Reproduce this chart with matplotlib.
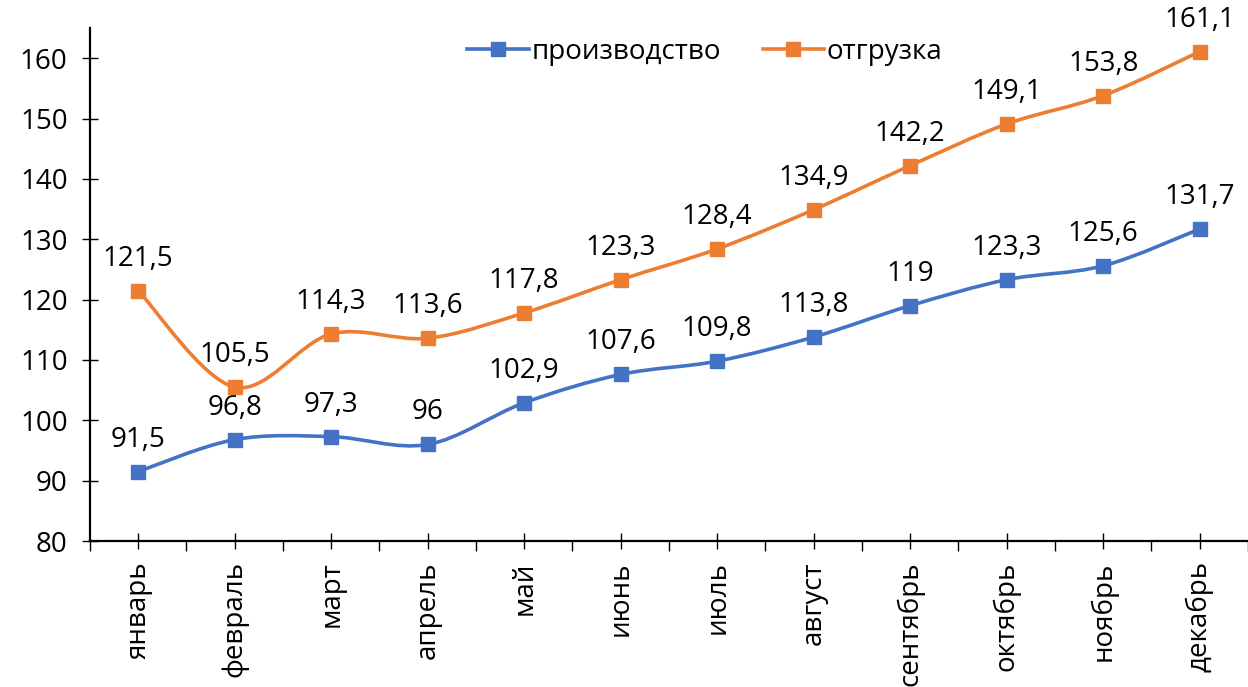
import numpy as np
import matplotlib
matplotlib.use("Agg")
import matplotlib.pyplot as plt
from matplotlib.path import Path
from matplotlib.patches import PathPatch
from matplotlib.lines import Line2D
from matplotlib.ticker import FixedLocator

plt.rcParams['font.family'] = ['Open Sans', 'DejaVu Sans']

months = ['январь', 'февраль', 'март', 'апрель', 'май', 'июнь',
          'июль', 'август', 'сентябрь', 'октябрь', 'ноябрь', 'декабрь']
production = [91.5, 96.8, 97.3, 96, 102.9, 107.6, 109.8, 113.8, 119, 123.3, 125.6, 131.7]
shipment = [121.5, 105.5, 114.3, 113.6, 117.8, 123.3, 128.4, 134.9, 142.2, 149.1, 153.8, 161.1]
series_names = ['производство', 'отгрузка']
colors = ['#4472C4', '#ED7D31']


def smooth_path(x, y, k=1/6):
    # Catmull-Rom style smoothing turned into cubic Bezier segments (like Excel "smoothed line")
    x = np.asarray(x, float)
    y = np.asarray(y, float)
    n = len(x)
    verts = [(x[0], y[0])]
    codes = [Path.MOVETO]
    for i in range(n - 1):
        p0 = (x[max(i - 1, 0)], y[max(i - 1, 0)])
        p1 = (x[i], y[i])
        p2 = (x[i + 1], y[i + 1])
        p3 = (x[min(i + 2, n - 1)], y[min(i + 2, n - 1)])
        c1 = (p1[0] + (p2[0] - p0[0]) * k, p1[1] + (p2[1] - p0[1]) * k)
        c2 = (p2[0] - (p3[0] - p1[0]) * k, p2[1] - (p3[1] - p1[1]) * k)
        verts += [c1, c2, p2]
        codes += [Path.CURVE4] * 3
    return Path(verts, codes)


fig = plt.figure(figsize=(12.48, 6.87), dpi=100)
ax = fig.add_axes([0.072, 0.2125, 0.928, 0.7467])

x = np.arange(len(months))
handles = []
for vals, name, c in zip([production, shipment], series_names, colors):
    ax.add_patch(PathPatch(smooth_path(x, vals), facecolor='none', edgecolor=c, lw=2.6, zorder=3))
    ax.plot(x, vals, ls='none', marker='s', ms=9.5, color=c, zorder=4)
    for xi, v in zip(x, vals):
        ax.annotate(f"{v:g}".replace('.', ','), (xi, v), xytext=(0, 18),
                    textcoords='offset points', ha='center', va='baseline', fontsize=20)
    handles.append(Line2D([], [], color=c, lw=2.6, marker='s', ms=9.5))

ax.set_xlim(-0.5, len(months) - 0.5)
ax.set_ylim(80, 165)
ax.set_yticks(np.arange(80, 161, 10))
ax.set_xticks(x)
ax.set_xticklabels(months, rotation=90)
ax.xaxis.set_minor_locator(FixedLocator(np.arange(-0.5, len(months), 1)))

for s in ['top', 'right']:
    ax.spines[s].set_visible(False)
for s in ['left', 'bottom']:
    ax.spines[s].set_linewidth(1.6)

ax.tick_params(axis='y', direction='inout', length=12, width=1, labelsize=20, pad=10)
ax.tick_params(axis='x', which='major', direction='inout', length=11, width=1, labelsize=20, pad=9)
ax.tick_params(axis='x', which='minor', direction='out', length=7.5, width=1)

ax.legend(handles, series_names, loc='center', bbox_to_anchor=(0.531, 0.953), ncol=2,
          frameon=False, fontsize=20, handlelength=2.2, handletextpad=0.1, columnspacing=1.5)

fig.savefig('out.png', dpi=100)
